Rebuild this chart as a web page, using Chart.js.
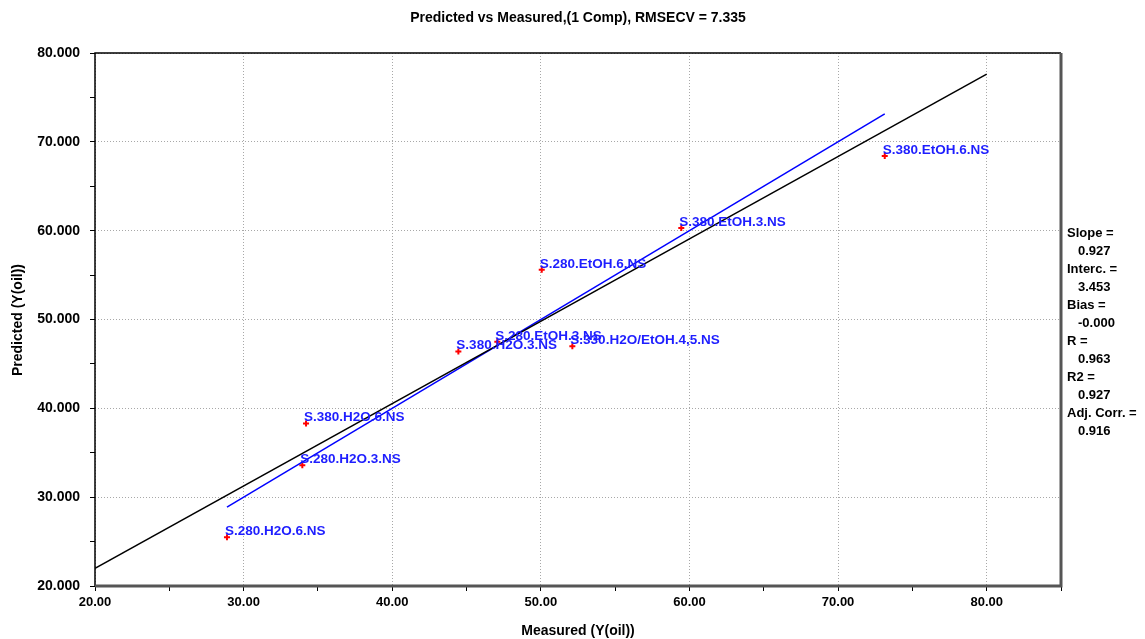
<!DOCTYPE html>
<html>
<head>
<meta charset="utf-8">
<script src="https://cdn.jsdelivr.net/npm/chart.js@4"></script>
<style>
  html, body { margin: 0; padding: 0; background: #fff; }
  #wrap { width: 1145px; height: 639px; }
</style>
</head>
<body>
<div id="wrap"><canvas id="plot" width="1145" height="639"></canvas></div>
<script>
// samples: measured vs predicted
const sampleNames = [
  "S.280.H2O.6.NS", "S.280.H2O.3.NS", "S.380.H2O.6.NS", "S.380.H2O.3.NS",
  "S.280.EtOH.3.NS", "S.330.H2O/EtOH.4,5.NS", "S.280.EtOH.6.NS",
  "S.380.EtOH.3.NS", "S.380.EtOH.6.NS"
];
const measured = [28.88, 33.95, 34.2, 44.45, 47.07, 52.12, 50.06, 59.45, 73.14];
const predicted = [25.5, 33.6, 38.3, 46.4, 47.5, 47.0, 55.6, 60.3, 68.4];

// fit statistics shown on the right
const statLabels = ["Slope =", "Interc. =", "Bias =", "R =", "R2 =", "Adj. Corr. ="];
const statValues = ["0.927", "3.453", "-0.000", "0.963", "0.927", "0.916"];
const slope = 0.927, intercept = 3.453;
const fitRange = [20, 80];

const titleText = "Predicted vs Measured,(1 Comp), RMSECV = 7.335";
const xTitle = "Measured (Y(oil))";
const yTitle = "Predicted (Y(oil))";

const points = measured.map((x, i) => ({ x, y: predicted[i] }));
const fitLine = fitRange.map(x => ({ x, y: slope * x + intercept }));
const lo = Math.min(...measured), hi = Math.max(...measured);
const targetLine = [{ x: lo, y: lo }, { x: hi, y: hi }];

const FONT = "'Liberation Sans', Arial, sans-serif";

const gridColor = (ctx) => {
  const v = ctx.tick && ctx.tick.value;
  if (v == null || v % 10 !== 0) return "rgba(0,0,0,0)";
  return "#a8a8a8";
};

// labels, frame, titles and stats
const decor = {
  id: "decor",
  afterDatasetsDraw(chart) {
    const { ctx, chartArea: a, scales } = chart;
    ctx.save();
    // point labels
    ctx.font = "bold 13.5px " + FONT;
    ctx.fillStyle = "#1e1eff";
    ctx.textAlign = "left";
    ctx.textBaseline = "bottom";
    sampleNames.forEach((n, i) => {
      const px = scales.x.getPixelForValue(measured[i]);
      const py = scales.y.getPixelForValue(predicted[i]);
      ctx.fillText(n, px - 2, py + 1);
    });
    // frame
    ctx.strokeStyle = "#000";
    ctx.lineWidth = 1.5;
    ctx.beginPath();
    ctx.moveTo(a.left, a.bottom);
    ctx.lineTo(a.left, a.top);
    ctx.lineTo(a.right, a.top);
    ctx.stroke();
    ctx.strokeStyle = "#555";
    ctx.lineWidth = 3;
    ctx.beginPath();
    ctx.moveTo(a.left, a.bottom);
    ctx.lineTo(a.right, a.bottom);
    ctx.lineTo(a.right, a.top);
    ctx.stroke();
    ctx.restore();
  },
  afterDraw(chart) {
    const { ctx, chartArea: a } = chart;
    const cx = (a.left + a.right) / 2;
    ctx.save();
    ctx.fillStyle = "#000";
    ctx.textBaseline = "middle";
    ctx.textAlign = "center";
    ctx.font = "bold 14px " + FONT;
    ctx.fillText(titleText, cx, 18);
    ctx.fillText(xTitle, cx, 631);
    ctx.save();
    ctx.translate(18, 320);
    ctx.rotate(-Math.PI / 2);
    ctx.fillText(yTitle, 0, 0);
    ctx.restore();
    // stats
    ctx.textAlign = "left";
    ctx.font = "bold 13px " + FONT;
    statLabels.forEach((l, i) => {
      const y = 233 + i * 36;
      ctx.fillText(l, 1067, y);
      ctx.fillText(statValues[i], 1078, y + 18);
    });
    ctx.restore();
  }
};

new Chart(document.getElementById("plot"), {
  type: "scatter",
  data: {
    datasets: [
      {
        label: "fit",
        type: "line",
        data: fitLine,
        borderColor: "#000",
        borderWidth: 1.5,
        pointRadius: 0,
        fill: false
      },
      {
        label: "target",
        type: "line",
        data: targetLine,
        borderColor: "#0000ff",
        borderWidth: 1.5,
        pointRadius: 0,
        fill: false
      },
      {
        label: "samples",
        data: points,
        pointStyle: "cross",
        pointRadius: 3,
        borderWidth: 2,
        borderColor: "#ff0000",
        backgroundColor: "#ff0000"
      }
    ]
  },
  options: {
    responsive: false,
    animation: false,
    layout: { padding: { left: 0, top: 53, right: 84, bottom: 0 } },
    plugins: { legend: { display: false }, tooltip: { enabled: false } },
    scales: {
      x: {
        type: "linear",
        min: 20,
        max: 85,
        afterFit: (s) => { s.height = 53; },
        ticks: {
          stepSize: 5,
          padding: 4,
          maxRotation: 0,
          autoSkip: false,
          color: "#000",
          font: { family: FONT, size: 13, weight: "bold" },
          callback: (v) => (v % 10 === 0 ? v.toFixed(2) : "")
        },
        grid: { color: gridColor, tickColor: "#000", tickLength: 5, lineWidth: 1, tickBorderDash: [] },
        border: { display: false, dash: [1, 2] }
      },
      y: {
        type: "linear",
        min: 20,
        max: 80,
        afterFit: (s) => { s.width = 95; },
        ticks: {
          stepSize: 5,
          padding: 10,
          autoSkip: false,
          color: "#000",
          font: { family: FONT, size: 14, weight: "bold" },
          callback: (v) => (v % 10 === 0 ? v.toFixed(3) : "")
        },
        grid: { color: gridColor, tickColor: "#000", tickLength: 5, lineWidth: 1, tickBorderDash: [] },
        border: { display: false, dash: [1, 2] }
      }
    }
  },
  plugins: [decor]
});
</script>
</body>
</html>
